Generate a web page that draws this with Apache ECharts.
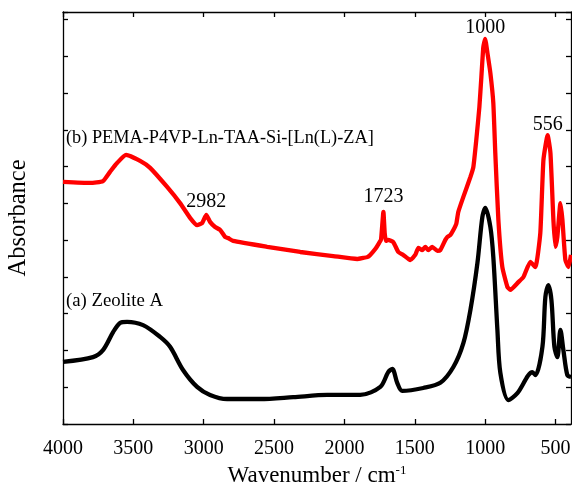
<!DOCTYPE html>
<html>
<head>
<meta charset="utf-8">
<script src="https://cdn.jsdelivr.net/npm/echarts@6/dist/echarts.min.js"></script>
<style>
html,body{margin:0;padding:0;background:#fff;}
#chart{width:572px;height:487px;}
</style>
</head>
<body>
<div id="chart"></div>
<script>
// Tick labels for wavenumber axis
const xTicks = [4000, 3500, 3000, 2500, 2000, 1500, 1000, 500];

// (b) PEMA-P4VP-Ln-TAA-Si-[Ln(L)-ZA]  (red)
const wnB = [4000, 3808, 3716, 3666, 3616, 3552, 3452, 3381, 3260, 3168, 3097, 3047, 3011, 2982, 2955, 2919, 2883, 2848, 2827, 2791, 2549, 2314, 2080, 1909, 1866, 1838, 1817, 1781, 1753, 1740, 1723, 1714, 1705, 1689, 1653, 1617, 1582, 1532, 1497, 1475, 1447, 1425, 1404, 1376, 1340, 1319, 1283, 1269, 1248, 1226, 1205, 1191, 1155, 1105, 1084, 1063, 1041, 1027, 1013, 1000, 984, 963, 942, 928, 906, 878, 842, 821, 764, 728, 679, 643, 608, 586, 556, 536, 515, 501, 487, 465, 451, 430, 408, 390];
const absB = [6.59, 6.56, 6.61, 6.86, 7.10, 7.32, 7.16, 6.97, 6.45, 6.01, 5.61, 5.41, 5.47, 5.69, 5.50, 5.36, 5.28, 5.09, 5.06, 4.98, 4.82, 4.68, 4.57, 4.49, 4.52, 4.54, 4.60, 4.76, 4.93, 5.02, 5.77, 5.20, 4.98, 5.01, 4.95, 4.68, 4.60, 4.46, 4.60, 4.79, 4.73, 4.82, 4.73, 4.82, 4.71, 4.73, 5.01, 5.09, 5.14, 5.28, 5.45, 5.77, 6.18, 6.72, 6.99, 7.73, 8.63, 9.44, 10.26, 10.48, 10.10, 9.55, 8.73, 7.37, 5.55, 4.27, 3.73, 3.65, 3.86, 4.00, 4.41, 4.27, 5.20, 7.18, 7.86, 7.37, 5.55, 4.82, 5.09, 6.01, 5.55, 4.46, 4.27, 4.60];

// (a) Zeolite A  (black)
const wnA = [4000, 3787, 3716, 3644, 3595, 3545, 3431, 3310, 3239, 3147, 3047, 2955, 2834, 2599, 2364, 2122, 1888, 1745, 1689, 1660, 1625, 1589, 1440, 1319, 1226, 1155, 1105, 1055, 1020, 999, 963, 942, 913, 892, 835, 771, 664, 643, 593, 572, 551, 529, 508, 487, 465, 444, 416, 390];
const absA = [1.69, 1.82, 2.01, 2.50, 2.75, 2.78, 2.69, 2.37, 2.10, 1.47, 1.01, 0.79, 0.68, 0.68, 0.73, 0.79, 0.79, 1.01, 1.41, 1.50, 1.12, 0.90, 0.98, 1.12, 1.55, 2.20, 3.10, 4.38, 5.63, 5.88, 5.36, 4.54, 2.56, 1.39, 0.65, 0.84, 1.41, 1.33, 2.10, 3.46, 3.78, 3.37, 2.10, 1.82, 2.56, 2.01, 1.33, 1.28];

// Peak annotations on curve (b)
const peakLabels = ['2982', '1723', '1000', '556'];
const peakWn = [2982, 1723, 1000, 556];

const FONT = '"Liberation Serif", "Times New Roman", serif';

const dataB = wnB.map((w, i) => [w, absB[i]]);
const dataA = wnA.map((w, i) => [w, absA[i]]);
const peakDist = [3, 5, 1, 0];
const peakMarks = peakWn.map((w, i) => ({
  name: peakLabels[i],
  coord: [w, absB[wnB.indexOf(w)]],
  label: { distance: peakDist[i] }
}));

const axisLineStyle = { color: '#000', width: 1.3 };
const xAxisBase = {
  type: 'value', inverse: true, min: 390, max: 4000,
  axisLine: { show: true, onZero: false, lineStyle: axisLineStyle },
  splitLine: { show: false },
};

const chart = echarts.init(document.getElementById('chart'), null, { renderer: 'canvas' });
chart.setOption({
  animation: false,
  backgroundColor: '#fff',
  grid: { left: 63, right: 1, top: 12, bottom: 63, containLabel: false, outerBoundsMode: 'none' },
  xAxis: [
    Object.assign({}, xAxisBase, {
      position: 'bottom',
      name: '{n|Wavenumber / cm}{s|-1}',
      nameLocation: 'middle',
      nameGap: 37,
      nameTextStyle: {
        rich: {
          n: { fontFamily: FONT, fontSize: 23, color: '#000' },
          s: { fontFamily: FONT, fontSize: 13, color: '#000', verticalAlign: 'top', padding: [0, 0, 12, 0] }
        }
      },
      axisTick: { show: true, inside: true, length: 5, lineStyle: axisLineStyle, customValues: xTicks },
      axisLabel: { show: true, customValues: xTicks, formatter: v => String(v), fontFamily: FONT, fontSize: 20, color: '#000', margin: 15 }
    }),
    Object.assign({}, xAxisBase, {
      position: 'top',
      axisTick: { show: true, inside: true, length: 5, lineStyle: axisLineStyle, customValues: xTicks },
      axisLabel: { show: false }
    })
  ],
  yAxis: [
    {
      type: 'value', min: 0, max: 11.21, interval: 1, position: 'left',
      name: 'Absorbance', nameLocation: 'middle', nameGap: 32,
      nameTextStyle: { fontFamily: FONT, fontSize: 24.5, color: '#000' },
      axisLine: { show: true, onZero: false, lineStyle: axisLineStyle },
      axisTick: { show: true, inside: true, length: 5, lineStyle: axisLineStyle },
      axisLabel: { show: false },
      splitLine: { show: false }
    },
    {
      type: 'value', min: 0, max: 11.21, interval: 1, position: 'right',
      axisLine: { show: true, onZero: false, lineStyle: axisLineStyle },
      axisTick: { show: true, inside: true, length: 5, lineStyle: axisLineStyle },
      axisLabel: { show: false },
      splitLine: { show: false }
    }
  ],
  series: [
    {
      name: '(b)', type: 'line', data: dataB, showSymbol: false, smooth: 0.15,
      lineStyle: { color: '#ff0000', width: 4.3 }, itemStyle: { color: '#ff0000' },
      markPoint: {
        symbol: 'circle', symbolSize: 0, silent: true,
        label: { show: true, position: 'top', formatter: p => p.name, fontFamily: FONT, fontSize: 20, color: '#000' },
        data: peakMarks
      }
    },
    {
      name: '(a)', type: 'line', data: dataA, showSymbol: false, smooth: 0.3,
      lineStyle: { color: '#000', width: 4.3 }, itemStyle: { color: '#000' }
    }
  ],
  graphic: [
    { type: 'text', left: 66, top: 129, style: { text: '(b) PEMA-P4VP-Ln-TAA-Si-[Ln(L)-ZA]', font: '18.3px ' + FONT, fill: '#000' } },
    { type: 'text', left: 66, top: 292, style: { text: '(a) Zeolite A', font: '18.8px ' + FONT, fill: '#000' } }
  ]
});
</script>
</body>
</html>
